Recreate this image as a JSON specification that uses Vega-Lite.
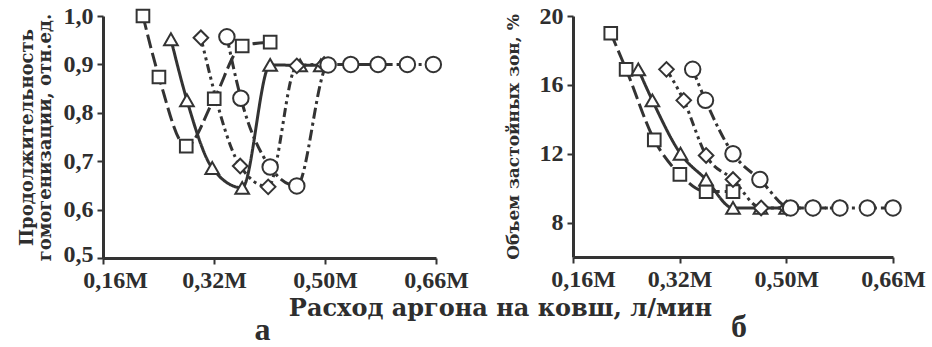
{
  "$schema": "https://vega.github.io/schema/vega-lite/v6.json",
  "background": "white",
  "padding": {"left": 17, "top": 4, "right": 0, "bottom": 0},
  "bounds": "flush",
  "spacing": 137,
  "config": {
    "view": {"stroke": null},
    "axis": {
      "grid": false,
      "domainColor": "#333333",
      "domainWidth": 3,
      "tickColor": "#333333",
      "tickWidth": 2,
      "tickSize": 6,
      "labelFont": "Liberation Serif",
      "labelFontWeight": "bold",
      "labelFontSize": 24,
      "labelColor": "#2e2e2e",
      "labelPadding": 4,
      "titleFont": "DejaVu Serif",
      "titleFontWeight": "bold",
      "titleColor": "#2e2e2e"
    }
  },
  "datasets": {
    "left": [
      {"s": "s1", "x": 0.22, "y": 1.0},
      {"s": "s1", "x": 0.244, "y": 0.874},
      {"s": "s1", "x": 0.285, "y": 0.731},
      {"s": "s1", "x": 0.327, "y": 0.829},
      {"s": "s1", "x": 0.369, "y": 0.938},
      {"s": "s1", "x": 0.411, "y": 0.946},
      {"s": "s2", "x": 0.262, "y": 0.952},
      {"s": "s2", "x": 0.286, "y": 0.826},
      {"s": "s2", "x": 0.324, "y": 0.686},
      {"s": "s2", "x": 0.369, "y": 0.645},
      {"s": "s2", "x": 0.411, "y": 0.899},
      {"s": "s2", "x": 0.456, "y": 0.898},
      {"s": "s2", "x": 0.487, "y": 0.898},
      {"s": "s3", "x": 0.307, "y": 0.955},
      {"s": "s3", "x": 0.366, "y": 0.69},
      {"s": "s3", "x": 0.408, "y": 0.647},
      {"s": "s3", "x": 0.451, "y": 0.897},
      {"s": "s3", "x": 0.492, "y": 0.9},
      {"s": "s3", "x": 0.532, "y": 0.9},
      {"s": "s3", "x": 0.573, "y": 0.9},
      {"s": "s4", "x": 0.346, "y": 0.957},
      {"s": "s4", "x": 0.367, "y": 0.83},
      {"s": "s4", "x": 0.411, "y": 0.688},
      {"s": "s4", "x": 0.451, "y": 0.649},
      {"s": "s4", "x": 0.498, "y": 0.899},
      {"s": "s4", "x": 0.532, "y": 0.9},
      {"s": "s4", "x": 0.573, "y": 0.9},
      {"s": "s4", "x": 0.617, "y": 0.9},
      {"s": "s4", "x": 0.656, "y": 0.9}
    ],
    "right": [
      {"s": "s1", "x": 0.219, "y": 19.0},
      {"s": "s1", "x": 0.243, "y": 16.9},
      {"s": "s1", "x": 0.287, "y": 12.8},
      {"s": "s1", "x": 0.327, "y": 10.8},
      {"s": "s1", "x": 0.368, "y": 9.8},
      {"s": "s1", "x": 0.41, "y": 9.8},
      {"s": "s2", "x": 0.262, "y": 16.9},
      {"s": "s2", "x": 0.284, "y": 15.1},
      {"s": "s2", "x": 0.328, "y": 12.0},
      {"s": "s2", "x": 0.368, "y": 10.5},
      {"s": "s2", "x": 0.41, "y": 8.85},
      {"s": "s2", "x": 0.453, "y": 8.85},
      {"s": "s2", "x": 0.493, "y": 8.85},
      {"s": "s3", "x": 0.306, "y": 16.9},
      {"s": "s3", "x": 0.333, "y": 15.1},
      {"s": "s3", "x": 0.368, "y": 11.9},
      {"s": "s3", "x": 0.41, "y": 10.5},
      {"s": "s3", "x": 0.454, "y": 8.85},
      {"s": "s3", "x": 0.494, "y": 8.85},
      {"s": "s3", "x": 0.535, "y": 8.85},
      {"s": "s3", "x": 0.577, "y": 8.85},
      {"s": "s4", "x": 0.347, "y": 16.9},
      {"s": "s4", "x": 0.367, "y": 15.1},
      {"s": "s4", "x": 0.41, "y": 12.0},
      {"s": "s4", "x": 0.452, "y": 10.5},
      {"s": "s4", "x": 0.5, "y": 8.85},
      {"s": "s4", "x": 0.535, "y": 8.85},
      {"s": "s4", "x": 0.577, "y": 8.85},
      {"s": "s4", "x": 0.62, "y": 8.85},
      {"s": "s4", "x": 0.66, "y": 8.85}
    ]
  },
  "hconcat": [
    {
      "width": 333,
      "height": 242,
      "data": {"name": "left"},
      "title": {"text": "а", "orient": "bottom", "frame": "group", "offset": 20, "baseline": "alphabetic", "dx": -7, "fontSize": 32, "font": "Liberation Serif", "fontWeight": "bold", "color": "#2e2e2e"},
      "encoding": {
        "x": {
          "field": "x", "type": "quantitative",
          "scale": {"domain": [0.16, 0.66], "nice": false, "zero": false},
          "axis": {
            "values": [0.16, 0.32667, 0.49333, 0.66],
            "labelFlush": false,
            "labelExpr": "datum.value < 0.2 ? '0,16M' : datum.value < 0.4 ? '0,32M' : datum.value < 0.55 ? '0,50M' : '0,66M'",
            "labelOffset": {"condition": {"test": "datum.value < 0.2", "value": 12}, "value": 0},
            "title": "Расход аргона на ковш, л/мин",
            "titleFontSize": 24,
            "titleX": 397,
            "titleY": 57,
            "titleAlign": "center",
            "titleBaseline": "alphabetic"
          }
        },
        "y": {
          "field": "y", "type": "quantitative",
          "scale": {"domain": [0.5, 1.0], "nice": false, "zero": false},
          "axis": {
            "values": [0.5, 0.6, 0.7, 0.8, 0.9, 1.0],
            "labelFlush": false,
            "labelExpr": "replace(format(datum.value, '.1f'), '.', ',')",
            "labelOffset": {"condition": {"test": "datum.value < 0.55", "value": -4}, "value": 0},
            "title": ["Продолжительность", "гомогенизации, отн.ед."],
            "titleFontSize": 18,
            "titleLineHeight": 18,
            "titlePadding": 9
          }
        }
      },
      "layer": [
        {
          "mark": {"type": "line", "interpolate": "monotone", "strokeWidth": 3, "color": "#333333"},
          "encoding": {
            "detail": {"field": "s", "type": "nominal"},
            "strokeDash": {"field": "s", "type": "nominal", "scale": {"domain": ["s1", "s2", "s3", "s4"], "range": [[14, 5], [1, 0], [9, 4, 3, 4, 3, 4], [11, 4, 3, 4]]}, "legend": null}
          }
        },
        {
          "mark": {"type": "point", "filled": true, "fill": "white", "stroke": "#333333", "strokeWidth": 2, "opacity": 1},
          "encoding": {
            "shape": {"field": "s", "type": "nominal", "scale": {"domain": ["s1", "s2", "s3", "s4"], "range": ["square", "triangle-up", "diamond", "circle"]}, "legend": null},
            "size": {"field": "s", "type": "nominal", "scale": {"domain": ["s1", "s2", "s3", "s4"], "range": [160, 240, 200, 160]}, "legend": null}
          }
        }
      ]
    },
    {
      "width": 320,
      "height": 241,
      "data": {"name": "right"},
      "title": {"text": "б", "orient": "bottom", "frame": "group", "offset": 46, "baseline": "alphabetic", "dx": 6, "fontSize": 32, "font": "Liberation Serif", "fontWeight": "bold", "color": "#2e2e2e"},
      "encoding": {
        "x": {
          "field": "x", "type": "quantitative",
          "scale": {"domain": [0.16, 0.66], "nice": false, "zero": false},
          "axis": {
            "values": [0.16, 0.32667, 0.49333, 0.66],
            "labelFlush": false,
            "labelExpr": "datum.value < 0.2 ? '0,16M' : datum.value < 0.4 ? '0,32M' : datum.value < 0.55 ? '0,50M' : '0,66M'",
            "labelOffset": {"condition": {"test": "datum.value < 0.2", "value": 10}, "value": 0},
            "title": null
          }
        },
        "y": {
          "field": "y", "type": "quantitative",
          "scale": {"domain": [6, 20], "nice": false, "zero": false},
          "axis": {
            "values": [8, 12, 16, 20],
            "labelFlush": false,
            "title": "Объем застойных зон, %",
            "titleFontSize": 17,
            "titlePadding": 17
          }
        }
      },
      "layer": [
        {
          "mark": {"type": "line", "interpolate": "monotone", "strokeWidth": 3, "color": "#333333"},
          "encoding": {
            "detail": {"field": "s", "type": "nominal"},
            "strokeDash": {"field": "s", "type": "nominal", "scale": {"domain": ["s1", "s2", "s3", "s4"], "range": [[14, 5], [1, 0], [9, 4, 3, 4, 3, 4], [11, 4, 3, 4]]}, "legend": null}
          }
        },
        {
          "mark": {"type": "point", "filled": true, "fill": "white", "stroke": "#333333", "strokeWidth": 2, "opacity": 1},
          "encoding": {
            "shape": {"field": "s", "type": "nominal", "scale": {"domain": ["s1", "s2", "s3", "s4"], "range": ["square", "triangle-up", "diamond", "circle"]}, "legend": null},
            "size": {"field": "s", "type": "nominal", "scale": {"domain": ["s1", "s2", "s3", "s4"], "range": [160, 240, 200, 160]}, "legend": null}
          }
        }
      ]
    }
  ],
  "resolve": {"scale": {"x": "independent", "y": "independent", "strokeDash": "independent", "shape": "independent", "size": "independent"}}
}
